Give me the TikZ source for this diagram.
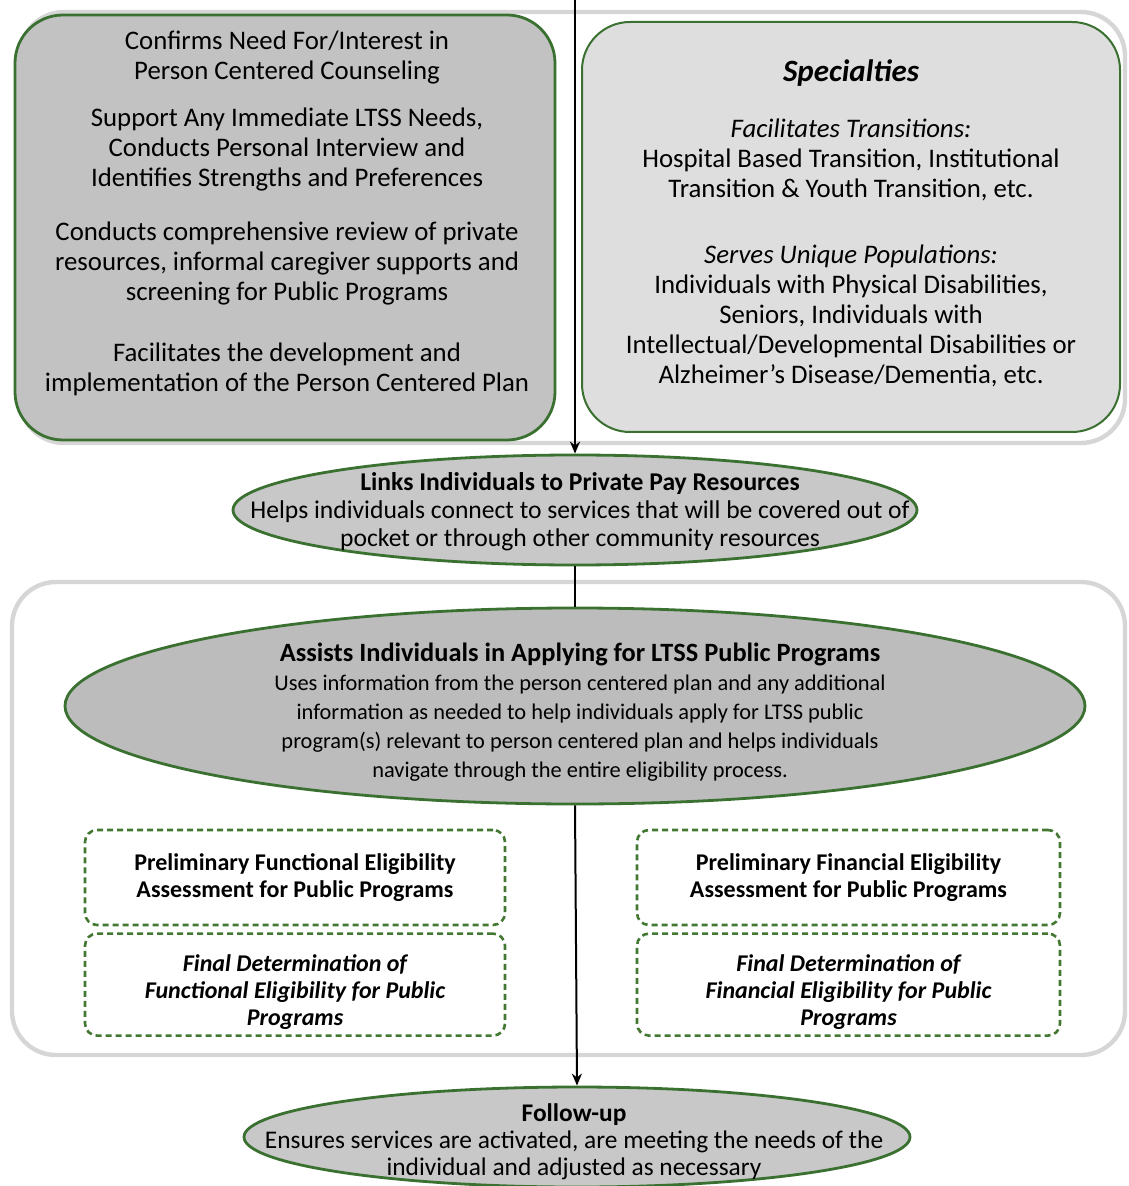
\documentclass[tikz,border=0pt]{standalone}
\usepackage{fontspec}
\setmainfont{Carlito}
\usetikzlibrary{positioning}
\usetikzlibrary{shapes.geometric}
\usetikzlibrary{arrows.meta}

\definecolor{boxgreen}{RGB}{58,112,48}
\definecolor{dashgreen}{RGB}{66,120,50}
\definecolor{framegray}{RGB}{214,214,214}
\definecolor{darkfill}{RGB}{194,194,194}
\definecolor{lightfill}{RGB}{222,222,222}
\definecolor{ovalfill}{RGB}{200,200,200}
\definecolor{bigoval}{RGB}{188,188,188}

\tikzset{
  panel/.style={draw=boxgreen, line width=1.4pt, rounded corners=24pt, inner sep=0pt},
  frame/.style={draw=framegray, line width=2.2pt, rounded corners=22pt},
  oval/.style={ellipse, draw=boxgreen, line width=1.4pt, inner sep=0pt},
  dashbox/.style={draw=dashgreen, dash pattern=on 3pt off 2pt, line width=1.3pt, rounded corners=6pt,
    fill=white, inner sep=0pt, align=center, font=\fontsize{12}{13.5}\selectfont\bfseries},
  txt/.style={align=center, inner sep=0pt},
  flow/.style={-{Stealth[length=6pt,width=5pt]}, line width=1pt}
}

\begin{document}
\begin{tikzpicture}[x=0.5pt, y=-0.5pt]
\useasboundingbox (0,0) rectangle (1128,1186);

% frames
\draw[frame] (20,12) rectangle (1125,443);
\draw[frame] (12,582) rectangle (1125,1055);

% top panels
\node[panel, fill=darkfill, minimum width=270pt, minimum height=212.5pt] (care) at (285,227.5) {};
\node[panel, fill=lightfill, line width=1pt, minimum width=269pt, minimum height=205pt] (spec) at (851,227) {};

\node[txt, anchor=north, font=\fontsize{13.4}{15}\selectfont] (careTxt) at (287,30) {%
Confirms Need For/Interest in\\
Person Centered Counseling\\[8.5pt]
Support Any Immediate LTSS Needs,\\
Conducts Personal Interview and\\
Identifies Strengths and Preferences\\[12pt]
Conducts comprehensive review of private\\
resources, informal caregiver supports and\\
screening for Public Programs\\[15.5pt]
Facilitates the development and\\
implementation of the Person Centered Plan};

\node[txt, anchor=north, font=\fontsize{13.4}{15}\selectfont] (specTxt) at (851,59) {%
{\fontsize{15.5}{15}\selectfont\bfseries\itshape Specialties}\\[13pt]
\textit{Facilitates Transitions:}\\
Hospital Based Transition, Institutional\\
Transition \& Youth Transition, etc.\\[18pt]
\textit{Serves Unique Populations:}\\
Individuals with Physical Disabilities,\\
Seniors, Individuals with\\
Intellectual/Developmental Disabilities or\\
Alzheimer's Disease/Dementia, etc.};

% ovals
\coordinate (start) at (575,0);
\node[oval, fill=ovalfill, minimum width=342pt, minimum height=55pt] (links) at (575,510) {};
\node[txt, font=\fontsize{12.8}{14}\selectfont] (linksTxt) at (580,512) {%
\textbf{Links Individuals to Private Pay Resources}\\
Helps individuals connect to services that will be covered out of\\
pocket or through other community resources};

\node[oval, fill=bigoval, minimum width=510pt, minimum height=98pt] (assist) at (575,706) {};
\node[txt, font=\fontsize{11.2}{14.5}\selectfont] (assistTxt) at (580,712) {%
{\fontsize{13.2}{14.5}\selectfont\bfseries Assists Individuals in Applying for LTSS Public Programs}\\
Uses information from the person centered plan and any additional\\
information as needed to help individuals apply for LTSS public\\
program(s) relevant to person centered plan and helps individuals\\
navigate through the entire eligibility process.};

\node[oval, fill=ovalfill, minimum width=333pt, minimum height=50pt] (follow) at (577,1137) {};
\node[txt, font=\fontsize{12.7}{13.5}\selectfont] (followTxt) at (574,1142) {%
\textbf{Follow-up}\\
Ensures services are activated, are meeting the needs of the\\
individual and adjusted as necessary};

% eligibility
\node[dashbox, minimum width=210pt, minimum height=47.5pt] (prelimFunc) at (295,877.5)
  {Preliminary Functional Eligibility\\Assessment for Public Programs};
\node[dashbox, font=\fontsize{12}{13.5}\selectfont\bfseries\itshape, minimum width=210pt, minimum height=51pt,
  below=3pt of prelimFunc] (finalFunc)
  {\rule{0pt}{15.5pt}Final Determination of\\Functional Eligibility for Public\\Programs};
\node[dashbox, minimum width=211.5pt, minimum height=47.5pt] (prelimFin) at (848.5,877.5)
  {Preliminary Financial Eligibility\\Assessment for Public Programs};
\node[dashbox, font=\fontsize{12}{13.5}\selectfont\bfseries\itshape, minimum width=211.5pt, minimum height=51pt,
  below=3pt of prelimFin] (finalFin)
  {\rule{0pt}{15.5pt}Final Determination of\\Financial Eligibility for Public\\Programs};

% flow
\draw[flow] (start) -- (links.north);
\draw[line width=1pt] (links.south) -- (assist.north);
\draw[flow] (assist.south) -- (follow.north);

\end{tikzpicture}
\end{document}
